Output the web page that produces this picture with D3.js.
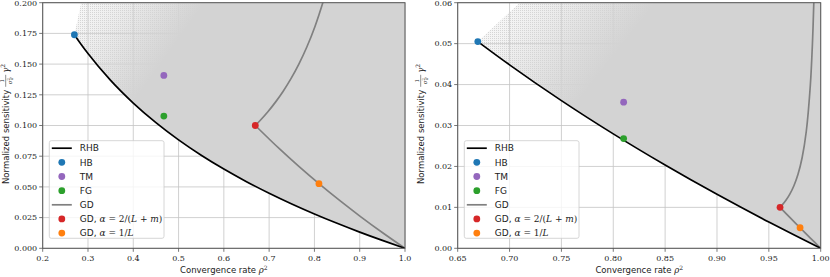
<!DOCTYPE html>
<html><head><meta charset="utf-8">
<script src="https://cdn.jsdelivr.net/npm/d3@7"></script>
<style>body{margin:0;background:#fff} svg{display:block}</style>
</head><body><svg id="c" width="830" height="277"></svg>
<script>
// ---------- data ----------
// left panel (kappa = 10)
const leftRHB = [[0.27,0.17386],[0.285,0.16599],[0.3,0.15859],[0.35,0.13674],[0.4,0.11828],[0.45,0.10233],[0.5,0.08831],[0.55,0.07581],[0.6,0.06453],[0.65,0.05426],[0.7,0.04482],[0.75,0.03608],[0.8,0.02795],[0.85,0.02034],[0.9,0.013176],[0.95,0.0064125],[1,0]];
const leftGDLower = [[1,0],[0.950625,0.012658],[0.9025,0.025641],[0.855625,0.038961],[0.81,0.052632],[0.765625,0.066667],[0.7225,0.081081],[0.66945,0.1]];
const leftGDUpper = [[0.66945,0.1],[0.680625,0.10429],[0.697225,0.11121],[0.714025,0.11903],[0.731025,0.12793],[0.748225,0.13815],[0.765625,0.15],[0.783225,0.16391],[0.801025,0.18048],[0.819025,0.20053],[0.8281,0.21222]];
const leftPoints = {HB:[0.27,0.1739], TM:[0.4675,0.1408], FG:[0.4675,0.1077], GDopt:[0.6694,0.1], GDL:[0.81,0.0526]};
const leftShadeEdge = [0.27,0.285];               // region starts at HB, meets top at x=0.285
const leftShadeFade = [[0.28,0.19],[0.45,0.145]]; // from sparse to solid
// right panel (kappa = 100)
const rightRHB = [[0.6694,0.050504],[0.7,0.04482],[0.75,0.03608],[0.8,0.02795],[0.85,0.02034],[0.9,0.013176],[0.95,0.0064125],[0.975,0.003165],[1,0]];
const rightGDLower = [[1,0],[0.990025,0.002506],[0.9801,0.005025],[0.970225,0.007557],[0.96079,0.01]];
const rightGDUpper = [[0.96079,0.01],[0.962361,0.010426],[0.966289,0.011665],[0.970225,0.013233],[0.974169,0.015285],[0.978121,0.018082],[0.982081,0.022122],[0.986049,0.028471],[0.990025,0.0399],[0.992016,0.0499],[0.993411,0.060506],[0.994009,0.066567]];
const rightPoints = {HB:[0.6694,0.0505], TM:[0.81,0.0357], FG:[0.81,0.0268], GDopt:[0.9608,0.01], GDL:[0.9801,0.005025]};
const rightShadeEdge = [0.6694,0.71];
const rightShadeFade = [[0.69,0.056],[0.775,0.039]];
// ticks
const leftXTicks = [0.2,0.3,0.4,0.5,0.6,0.7,0.8,0.9,1.0];
const leftYTicks = [0,0.025,0.05,0.075,0.1,0.125,0.15,0.175,0.2];
const rightXTicks = [0.65,0.7,0.75,0.8,0.85,0.9,0.95,1.0];
const rightYTicks = [0,0.01,0.02,0.03,0.04,0.05,0.06];
const legendLabels = ["RHB","HB","TM","FG","GD","GDopt","GDL"];

const colors = {RHB:"#000", HB:"#1f77b4", TM:"#9467bd", FG:"#2ca02c", GD:"#808080", GDopt:"#d62728", GDL:"#ff7f0e"};

const svg = d3.select("#c");
const defs = svg.append("defs");
const p1 = defs.append("pattern").attr("id","sparse").attr("patternUnits","userSpaceOnUse").attr("width",2).attr("height",2);
p1.append("rect").attr("x",0).attr("y",0).attr("width",1).attr("height",1).attr("fill","#d6d6d6");

const SERIF = "'DejaVu Serif', serif";
const SANS = "'DejaVu Sans', sans-serif";

function panel(cfg){
  const {x0,x1,y0,y1,xDom,yDom,xTicks,yTicks,xFmt,yFmt,rhb,gdLo,gdUp,pts,edge,fade,id} = cfg;
  const x = d3.scaleLinear().domain(xDom).range([x0,x1]);
  const y = d3.scaleLinear().domain(yDom).range([y1,y0]);
  const g = svg.append("g");
  defs.append("clipPath").attr("id","clip"+id).append("rect")
    .attr("x",x0).attr("y",y0).attr("width",x1-x0).attr("height",y1-y0);
  const grad = defs.append("linearGradient").attr("id","fade"+id).attr("gradientUnits","userSpaceOnUse")
    .attr("x1",x(fade[0][0])).attr("y1",y(fade[0][1])).attr("x2",x(fade[1][0])).attr("y2",y(fade[1][1]));
  [[0,0.2],[0.35,0.45],[0.7,0.75],[1,1]].forEach(s=>grad.append("stop").attr("offset",s[0]).attr("stop-color","#d3d3d3").attr("stop-opacity",s[1]));
  // grid
  const grid = g.append("g").attr("stroke","#c4c4c4").attr("stroke-width",0.8);
  xTicks.forEach(t=>grid.append("line").attr("x1",x(t)).attr("x2",x(t)).attr("y1",y0).attr("y2",y1));
  yTicks.forEach(t=>grid.append("line").attr("y1",y(t)).attr("y2",y(t)).attr("x1",x0).attr("x2",x1));
  // shaded region
  const plot = g.append("g").attr("clip-path",`url(#clip${id})`);
  const ymax = yDom[1];
  const curve = rhb.filter(d=>d[0]>=edge[0]-1e-9);
  const poly = [[edge[1],ymax]].concat(curve).concat([[1,ymax]]);
  const dPoly = "M"+poly.map(d=>[x(d[0]),y(d[1])].join(",")).join("L")+"Z";
  plot.append("path").attr("d",dPoly).attr("fill","url(#sparse)");
  plot.append("path").attr("d",dPoly).attr("fill",`url(#fade${id})`);
  const line = d3.line().x(d=>x(d[0])).y(d=>y(d[1])).curve(d3.curveCatmullRom);
  plot.append("path").attr("d",line(gdLo)).attr("fill","none").attr("stroke",colors.GD).attr("stroke-width",1.7);
  plot.append("path").attr("d",line(gdUp)).attr("fill","none").attr("stroke",colors.GD).attr("stroke-width",1.7);
  plot.append("path").attr("d",d3.line().x(d=>x(d[0])).y(d=>y(d[1])).curve(d3.curveMonotoneX)(rhb))
    .attr("fill","none").attr("stroke","#000").attr("stroke-width",1.7);
  ["HB","TM","FG","GDopt","GDL"].forEach(k=>{
    g.append("circle").attr("cx",x(pts[k][0])).attr("cy",y(pts[k][1])).attr("r",3.4).attr("fill",colors[k]);
  });
  // frame
  g.append("rect").attr("x",x0).attr("y",y0).attr("width",x1-x0).attr("height",y1-y0)
    .attr("fill","none").attr("stroke","#555").attr("stroke-width",1);
  // ticks
  const tk = g.append("g").attr("stroke","#555").attr("stroke-width",0.8);
  xTicks.forEach(t=>tk.append("line").attr("x1",x(t)).attr("x2",x(t)).attr("y1",y1).attr("y2",y1+3.5));
  yTicks.forEach(t=>tk.append("line").attr("y1",y(t)).attr("y2",y(t)).attr("x1",x0-3.5).attr("x2",x0));
  const lab = g.append("g").attr("font-family",SERIF).attr("font-size",8).attr("fill","#222");
  xTicks.forEach(t=>lab.append("text").attr("x",x(t)).attr("y",y1+12.5).attr("text-anchor","middle").text(d3.format(xFmt)(t)));
  yTicks.forEach(t=>lab.append("text").attr("x",x0-5.5).attr("y",y(t)+2.8).attr("text-anchor","end").text(d3.format(yFmt)(t)));
  // x label
  const xl = g.append("text").attr("x",(x0+x1)/2).attr("y",y1+25).attr("text-anchor","middle")
    .attr("font-family",SANS).attr("font-size",8.5).attr("fill","#222");
  xl.append("tspan").text("Convergence rate ");
  xl.append("tspan").attr("font-family",SERIF).attr("font-style","italic").text("ρ");
  xl.append("tspan").attr("font-family",SERIF).attr("font-size",6).attr("dy",-3.5).text("2");
  // y label (rotated)
  const yg = g.append("g").attr("transform",`translate(${x0-34},${(y0+y1)/2}) rotate(-90)`);
  const ytxt = yg.append("text").attr("x",-58.5).attr("y",0).attr("font-family",SANS).attr("font-size",8.5).attr("fill","#222")
    .text("Normalized sensitivity");
  const tEnd = -58.5 + ytxt.node().getComputedTextLength();
  const fx = tEnd + 9;
  yg.append("text").attr("x",fx).attr("y",-4.6).attr("text-anchor","middle").attr("font-family",SERIF).attr("font-size",5.5).attr("fill","#222").text("1");
  yg.append("line").attr("x1",fx-6).attr("x2",fx+6).attr("y1",-3).attr("y2",-3).attr("stroke","#222").attr("stroke-width",0.5);
  const den = yg.append("text").attr("x",fx).attr("y",2.8).attr("text-anchor","middle").attr("font-family",SERIF).attr("font-size",5.5).attr("fill","#222");
  den.append("tspan").attr("font-style","italic").text("σ");
  den.append("tspan").attr("font-size",4).attr("dy",-1.8).text("2");
  den.append("tspan").attr("font-size",4).attr("font-style","italic").attr("dx",-2.2).attr("dy",3.2).text("d");
  const gm = yg.append("text").attr("x",fx+8).attr("y",0).attr("font-family",SERIF).attr("font-size",8.5).attr("fill","#222");
  gm.append("tspan").attr("font-style","italic").text("γ");
  gm.append("tspan").attr("font-size",6).attr("dy",-3.5).text("2");
  // legend
  const lx = x0+6.6, ly = 140.7;
  const lg = g.append("g");
  lg.append("rect").attr("x",lx).attr("y",ly).attr("width",114.7).attr("height",97.6).attr("rx",2)
    .attr("fill","#fff").attr("fill-opacity",0.8).attr("stroke","#ccc").attr("stroke-width",0.8);
  legendLabels.forEach((k,i)=>{
    const yy = 148.2 + i*14.15;
    if(k==="RHB"||k==="GD"){
      lg.append("line").attr("x1",lx+2.5).attr("x2",lx+22.5).attr("y1",yy).attr("y2",yy)
        .attr("stroke",colors[k]).attr("stroke-width",1.7);
    } else {
      lg.append("circle").attr("cx",lx+12.5).attr("cy",yy).attr("r",3.4).attr("fill",colors[k]);
    }
    const t = lg.append("text").attr("x",lx+30.5).attr("y",yy+3.2).attr("font-family",SANS).attr("font-size",9).attr("fill","#222");
    const m = (s,it)=>t.append("tspan").attr("font-family",SERIF).attr("font-style",it?"italic":"normal").text(s);
    if(k==="GDopt"){
      t.append("tspan").text("GD, ");
      m("α",1); m(" = 2/(",0); m("L",1); m(" + ",0); m("m",1); m(")",0);
    } else if(k==="GDL"){
      t.append("tspan").text("GD, ");
      m("α",1); m(" = 1/",0); m("L",1);
    } else t.text(k);
  });
}

panel({id:"L",x0:42.7,x1:405,y0:2.7,y1:248.3,xDom:[0.2,1],yDom:[0,0.2],xTicks:leftXTicks,yTicks:leftYTicks,xFmt:".1f",yFmt:".3f",
  rhb:leftRHB,gdLo:leftGDLower,gdUp:leftGDUpper,pts:leftPoints,edge:leftShadeEdge,fade:leftShadeFade});
panel({id:"R",x0:457.7,x1:820.7,y0:2.7,y1:248.3,xDom:[0.65,1],yDom:[0,0.06],xTicks:rightXTicks,yTicks:rightYTicks,xFmt:".2f",yFmt:".2f",
  rhb:rightRHB,gdLo:rightGDLower,gdUp:rightGDUpper,pts:rightPoints,edge:rightShadeEdge,fade:rightShadeFade});
</script>
</body></html>
